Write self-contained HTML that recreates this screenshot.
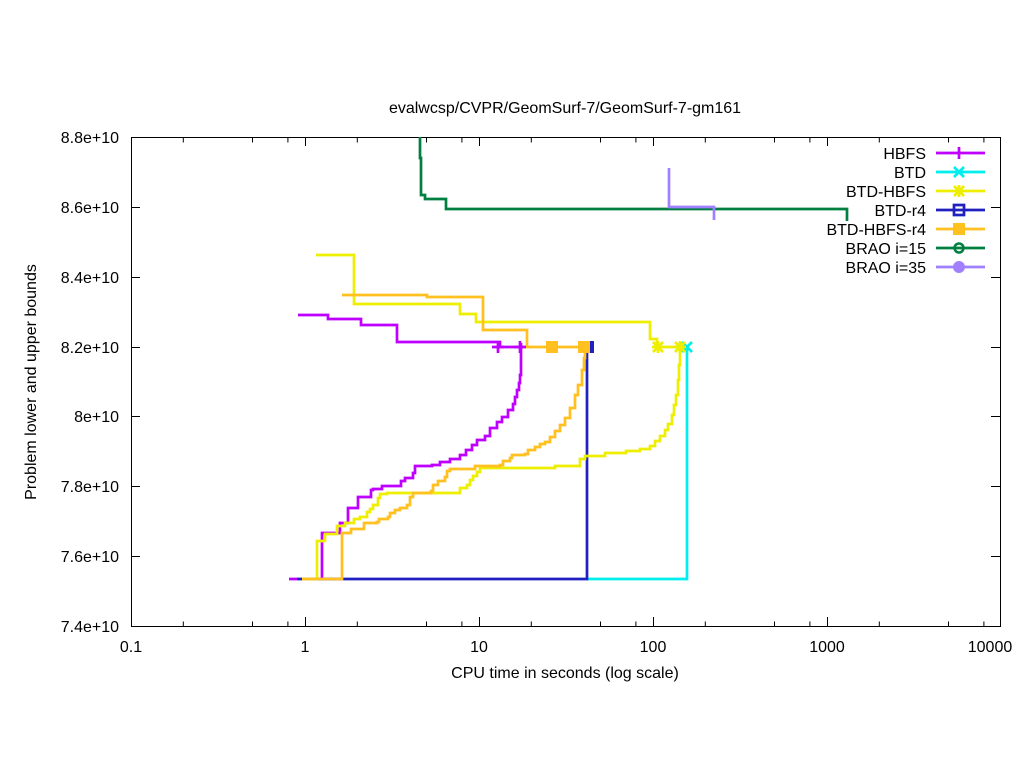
<!DOCTYPE html>
<html><head><meta charset="utf-8"><style>
html,body{margin:0;padding:0;background:#fff}
svg{display:block}
text{font-family:"Liberation Sans",sans-serif;font-size:16px;fill:#000}
</style></head><body>
<svg width="1024" height="768" viewBox="0 0 1024 768">
<defs>
<g id="dec">
<path d="M52.3,0v-5M121.5,0v-5M156.9,0v-5" stroke="#000" stroke-width="1" fill="none"/>
<path d="M52.3,-489v5M121.5,-489v5M156.9,-489v5" stroke="#000" stroke-width="1" fill="none"/>
</g>
</defs>
<text x="565" y="113" text-anchor="middle">evalwcsp/CVPR/GeomSurf-7/GeomSurf-7-gm161</text>
<rect x="131.5" y="137.5" width="869" height="489" fill="none" stroke="#000" stroke-width="1"/>
<g stroke="#000" stroke-width="1" fill="none">
<path d="M305.5,626v-9M479.5,626v-9M653.5,626v-9M827.5,626v-9M305.5,137v9M479.5,137v9M653.5,137v9M827.5,137v9"/>
<path d="M131,556.5h9M131,486.5h9M131,416.5h9M131,347.5h9M131,277.5h9M131,207.5h9M1000,556.5h-9M1000,486.5h-9M1000,416.5h-9M1000,347.5h-9M1000,277.5h-9M1000,207.5h-9"/>
</g>
<use href="#dec" transform="translate(131,626.5)"/>
<use href="#dec" transform="translate(305,626.5)"/>
<use href="#dec" transform="translate(479,626.5)"/>
<use href="#dec" transform="translate(653,626.5)"/>
<use href="#dec" transform="translate(827,626.5)"/>
<g text-anchor="end">
<text x="119" y="632">7.4e+10</text><text x="119" y="562">7.6e+10</text><text x="119" y="492">7.8e+10</text>
<text x="119" y="422">8e+10</text><text x="119" y="353">8.2e+10</text><text x="119" y="283">8.4e+10</text>
<text x="119" y="213">8.6e+10</text><text x="119" y="143">8.8e+10</text>
</g>
<g text-anchor="middle">
<text x="131" y="652">0.1</text><text x="305" y="652">1</text><text x="479" y="652">10</text>
<text x="653" y="652">100</text><text x="827" y="652">1000</text><text x="990" y="652">10000</text>
</g>
<text x="565" y="678" text-anchor="middle">CPU time in seconds (log scale)</text>
<text transform="translate(36,382) rotate(-90)" text-anchor="middle">Problem lower and upper bounds</text>

<g fill="none" stroke-width="2.7">
<path stroke="#008040" d="M420,137V158H421V195H425V199H446V209H847V221"/>
<path stroke="#a080ff" d="M669,168V207H714V220"/>
<path stroke="#00eeee" d="M587,579H687V347"/>
<path stroke="#2020c0" d="M297,579H587V347"/>
<path stroke="#c000ff" d="M298,315H328V319H361V325H397V342H500V347H523"/>
<path stroke="#c000ff" d="M289,579H297M322,579V533H340V523H348V508H358V497H371V490H373V489H382V486H401V481H405V478H413V473H415V466H432V465H440V462H450V459H460V455H466V450H472V445H477V440H485V436H490V428H497V422H502V417H508V410H513V404H515V397H517V390H519V383H520V375H521V343"/>
<path stroke="#eeee00" d="M316,255H354V304H460V314H476V322H650V339H657V347H682"/>
<path stroke="#eeee00" d="M302,579H317V541H325V534H337V526H345V523H354V519H360V517H367V512H370V509H373V505H378V498H380V494H387V493H460V488H467V485H470V480H473V476H477V472H480V468H555V466H580V459H585V456H605V453H626V451H640V449H650V446H655V441H660V436H665V430H668V424H672V415H674V405H676V395H678V380H679V365H680V347"/>
<path stroke="#ffc020" d="M342,295H427V297H483V330H527V347H590"/>
<path stroke="#ffc020" d="M302,579H342V533H351V529H364V523H377V522H379V519H388V517H390V513H395V510H400V508H407V505H410V497H413V493H431V491H433V485H438V481H445V477H447V471H450V469H460V469H475V466H500V465H503V461H510V458H512V455H525V454H528V450H535V447H540V444H545V442H550V437H555V431H560V425H565V418H570V408H575V395H578V385H582V370H584V358H585V347"/>
</g>
<g stroke-width="2.7" fill="none">
<path stroke="#c000ff" d="M492,347h12M498,341v12M514,347h12M520,341v12"/>
<path stroke="#00eeee" d="M682,342l10,10M692,342l-10,10"/>
<path stroke="#eeee00" d="M653,342l10,10M663,342l-10,10M652,347h12M658,341v12M675,342l10,10M685,342l-10,10M674,347h12M680,341v12"/>
</g>
<rect x="546" y="341" width="12" height="12" fill="#ffc020"/>
<rect x="578" y="341" width="12" height="12" fill="#ffc020"/>
<rect x="590" y="341" width="4" height="12" fill="#2020c0"/>

<g text-anchor="end">
<text x="926" y="159">HBFS</text><text x="926" y="178">BTD</text><text x="926" y="197">BTD-HBFS</text>
<text x="926" y="216">BTD-r4</text><text x="926" y="235">BTD-HBFS-r4</text><text x="926" y="254">BRAO i=15</text>
<text x="926" y="273">BRAO i=35</text>
</g>
<g stroke-width="2.7" fill="none">
<path stroke="#c000ff" d="M936,153h49M959,147v12"/>
<path stroke="#00eeee" d="M936,172h49M954,167l10,10M964,167l-10,10"/>
<path stroke="#eeee00" d="M936,191h49M954,186l10,10M964,186l-10,10M953,191h12M959,185v12"/>
<path stroke="#2020c0" d="M936,210h49"/>
<rect x="954" y="205" width="10" height="10" stroke="#2020c0"/>
<path stroke="#ffc020" d="M936,229h49"/>
<path stroke="#008040" d="M936,248h49"/>
<path stroke="#a080ff" d="M936,267h49"/>
</g>
<rect x="953" y="223" width="12" height="12" fill="#ffc020"/>
<circle cx="959" cy="248" r="4.5" fill="none" stroke="#008040" stroke-width="2.5"/>
<circle cx="959" cy="267" r="6" fill="#a080ff"/>
</svg>
</body></html>
